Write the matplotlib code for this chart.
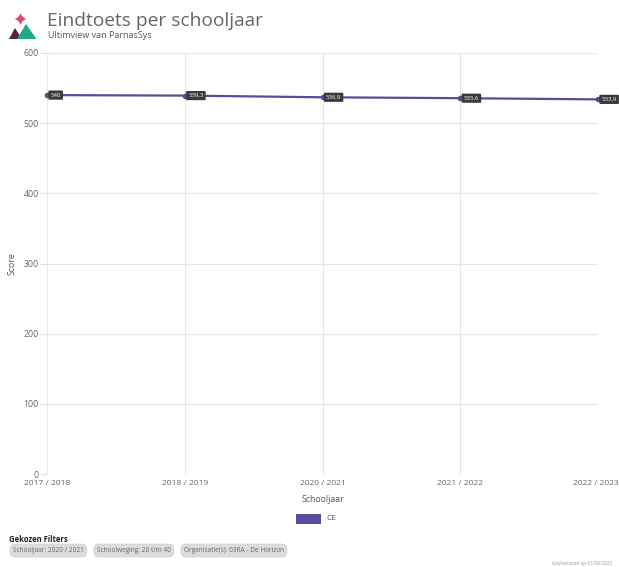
import matplotlib
matplotlib.use('Agg')
import matplotlib.pyplot as plt
from matplotlib.patches import Polygon, FancyBboxPatch
from matplotlib.transforms import offset_copy

plt.rcParams['font.family'] = ['Open Sans', 'DejaVu Sans']

years = ['2017 / 2018', '2018 / 2019', '2020 / 2021', '2021 / 2022', '2022 / 2023']
scores = [540, 539.3, 536.9, 535.6, 533.9]
labels = ['540', '539,3', '536,9', '535,6', '533,9']
filters = ['Schooljaar: 2020 / 2021', 'Schoolweging: 20 t/m 40', 'Organisatie(s): 03RA - De Horizon']

purple = '#5c4a9c'

fig = plt.figure(figsize=(6.19, 5.67), dpi=100)
ax = fig.add_axes([47/619, 1-474/567, (598-47)/619, (474-53)/567])

x = list(range(len(years)))
ax.plot(x, scores, color=purple, lw=1.6, marker='o', ms=3, zorder=3, clip_on=False)
for xi, yi, lab in zip(x, scores, labels):
    ax.annotate(lab, (xi, yi), xytext=(2.5, 0), textcoords='offset points',
                ha='left', va='center', fontsize=4.3, color='white', zorder=4,
                annotation_clip=False,
                bbox=dict(boxstyle='round,pad=0.35,rounding_size=0.15', fc='#3a3a3a', ec='none'))

ax.set_xlim(0, len(years) - 1)
ax.set_ylim(0, 600)
ax.set_yticks(range(0, 601, 100))
ax.set_xticks(x)
ax.set_xticklabels(years)
ax.grid(True, color='#e6e6e6', lw=0.8)
ax.set_axisbelow(True)
for s in ax.spines.values():
    s.set_visible(False)
ax.tick_params(axis='y', length=5, width=0.8, labelsize=6.3, colors='#666666', pad=1)
ax.tick_params(axis='y', color='#e0e0e0')
ax.tick_params(axis='x', length=0, labelsize=6.1, colors='#666666', pad=4)
last = ax.get_xticklabels()[-1]
last.set_transform(offset_copy(last.get_transform(), fig=fig, x=-2, units='dots'))
ax.set_xlabel('Schooljaar', fontsize=6.3, color='#555555', labelpad=6)
ax.set_ylabel('Score', fontsize=6.3, color='#555555', labelpad=5)

# legend
fig.patches.append(FancyBboxPatch((296/619, 1-524/567), 25/619, 10/567, boxstyle='square,pad=0',
                                  transform=fig.transFigure, fc=purple, ec='none'))
fig.text(326/619, 1-519/567, 'CE', fontsize=6, color='#555555', va='center')

# title + logo
fig.text(47/619, 1-21/567, 'Eindtoets per schooljaar', fontsize=13.8, color='#666666', va='center')
fig.text(48/619, 1-36/567, 'Ultimview van ParnasSys', fontsize=6.5, color='#555555', va='center')
logo = [
    ([(20.5, 13.5), (22.6, 16.9), (26, 19), (22.6, 21.1), (20.5, 24.5), (18.4, 21.1), (15, 19), (18.4, 16.9)], '#e8476b'),
    ([(9, 39), (15, 28), (22, 39)], '#5a1f3f'),
    ([(17, 39), (26, 24), (36.5, 39)], '#1faa84'),
]
for pts, c in logo:
    fig.patches.append(Polygon([(px/619, 1-py/567) for px, py in pts], closed=True,
                               transform=fig.transFigure, fc=c, ec='none'))

# filters
fig.text(9/619, 1-539/567, 'Gekozen Filters', fontsize=5.5, color='#222222', weight='bold', va='center')
fig.canvas.draw()
r = fig.canvas.get_renderer()
px = 13
for f in filters:
    t = fig.text(px/619, 1-550.5/567, f, fontsize=4.7, color='#666666', ha='left', va='center',
                 bbox=dict(boxstyle='round,pad=0.45,rounding_size=0.8', fc='#dddddd', ec='#cccccc', lw=0.5))
    bb = t.get_window_extent(r)
    px += bb.width + 13
fig.text(612/619, 1-563/567, 'Gedownload op 01/08/2023', fontsize=3.5, color='#999999',
         ha='right', va='center', style='italic')

fig.savefig('out.png', dpi=100)
